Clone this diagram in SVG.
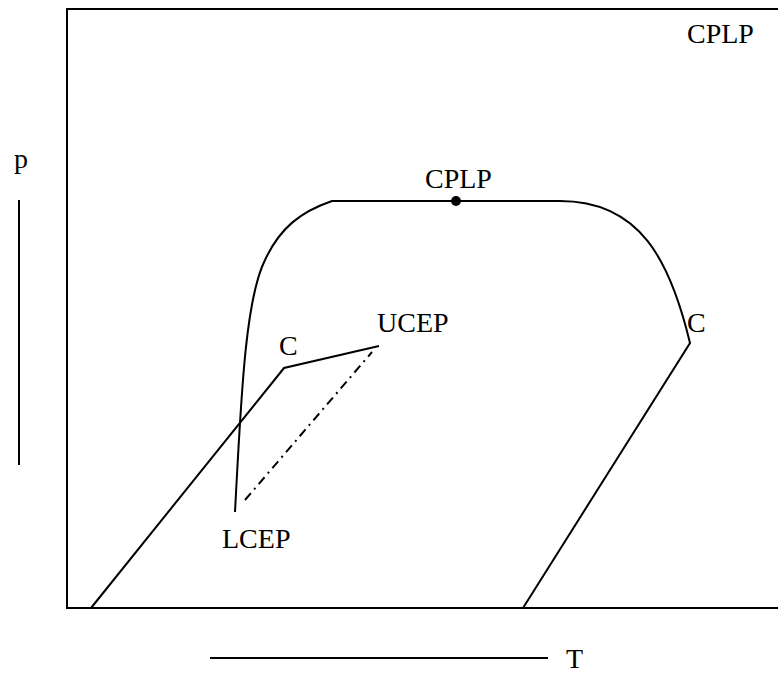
<svg xmlns="http://www.w3.org/2000/svg" width="778" height="675" viewBox="0 0 778 675">
<style>
.l{fill:none;stroke:#000;stroke-width:2}
text{font-family:'Times New Roman','Liberation Serif','DejaVu Serif',serif;font-size:28px;fill:#000}
</style>
<rect width="778" height="675" fill="#fff"/>
<g id="frame">
<path class="l" d="M778,9 H67 V608 H778"/>
</g>
<g id="axes">
<line class="l" x1="19" y1="200" x2="19" y2="465"/>
<text x="14" y="168">p</text>
<line class="l" x1="210" y1="658" x2="548" y2="658"/>
<text x="566" y="668">T</text>
</g>
<g id="connectors">
<path class="l" d="M235,512 C241,400 245,300 265,260 C280,228 300,212 332,201 L560,201 C640,201 670,260 690,343 L523,608"/>
<path class="l" d="M91,608 L284,368 L379,346"/>
<line x1="245" y1="500" x2="372" y2="352" stroke="#000" stroke-width="2" stroke-dasharray="9,5,2,5"/>
</g>
<g id="cplp-point">
<circle cx="456" cy="201" r="5" fill="#000"/>
<text x="425" y="188">CPLP</text>
</g>
<g id="cplp-corner"><text x="687" y="43">CPLP</text></g>
<g id="ucep"><text x="377" y="332">UCEP</text></g>
<g id="c-left"><text x="279" y="355">C</text></g>
<g id="c-right"><text x="687" y="332">C</text></g>
<g id="lcep"><text x="222" y="548">LCEP</text></g>
</svg>
